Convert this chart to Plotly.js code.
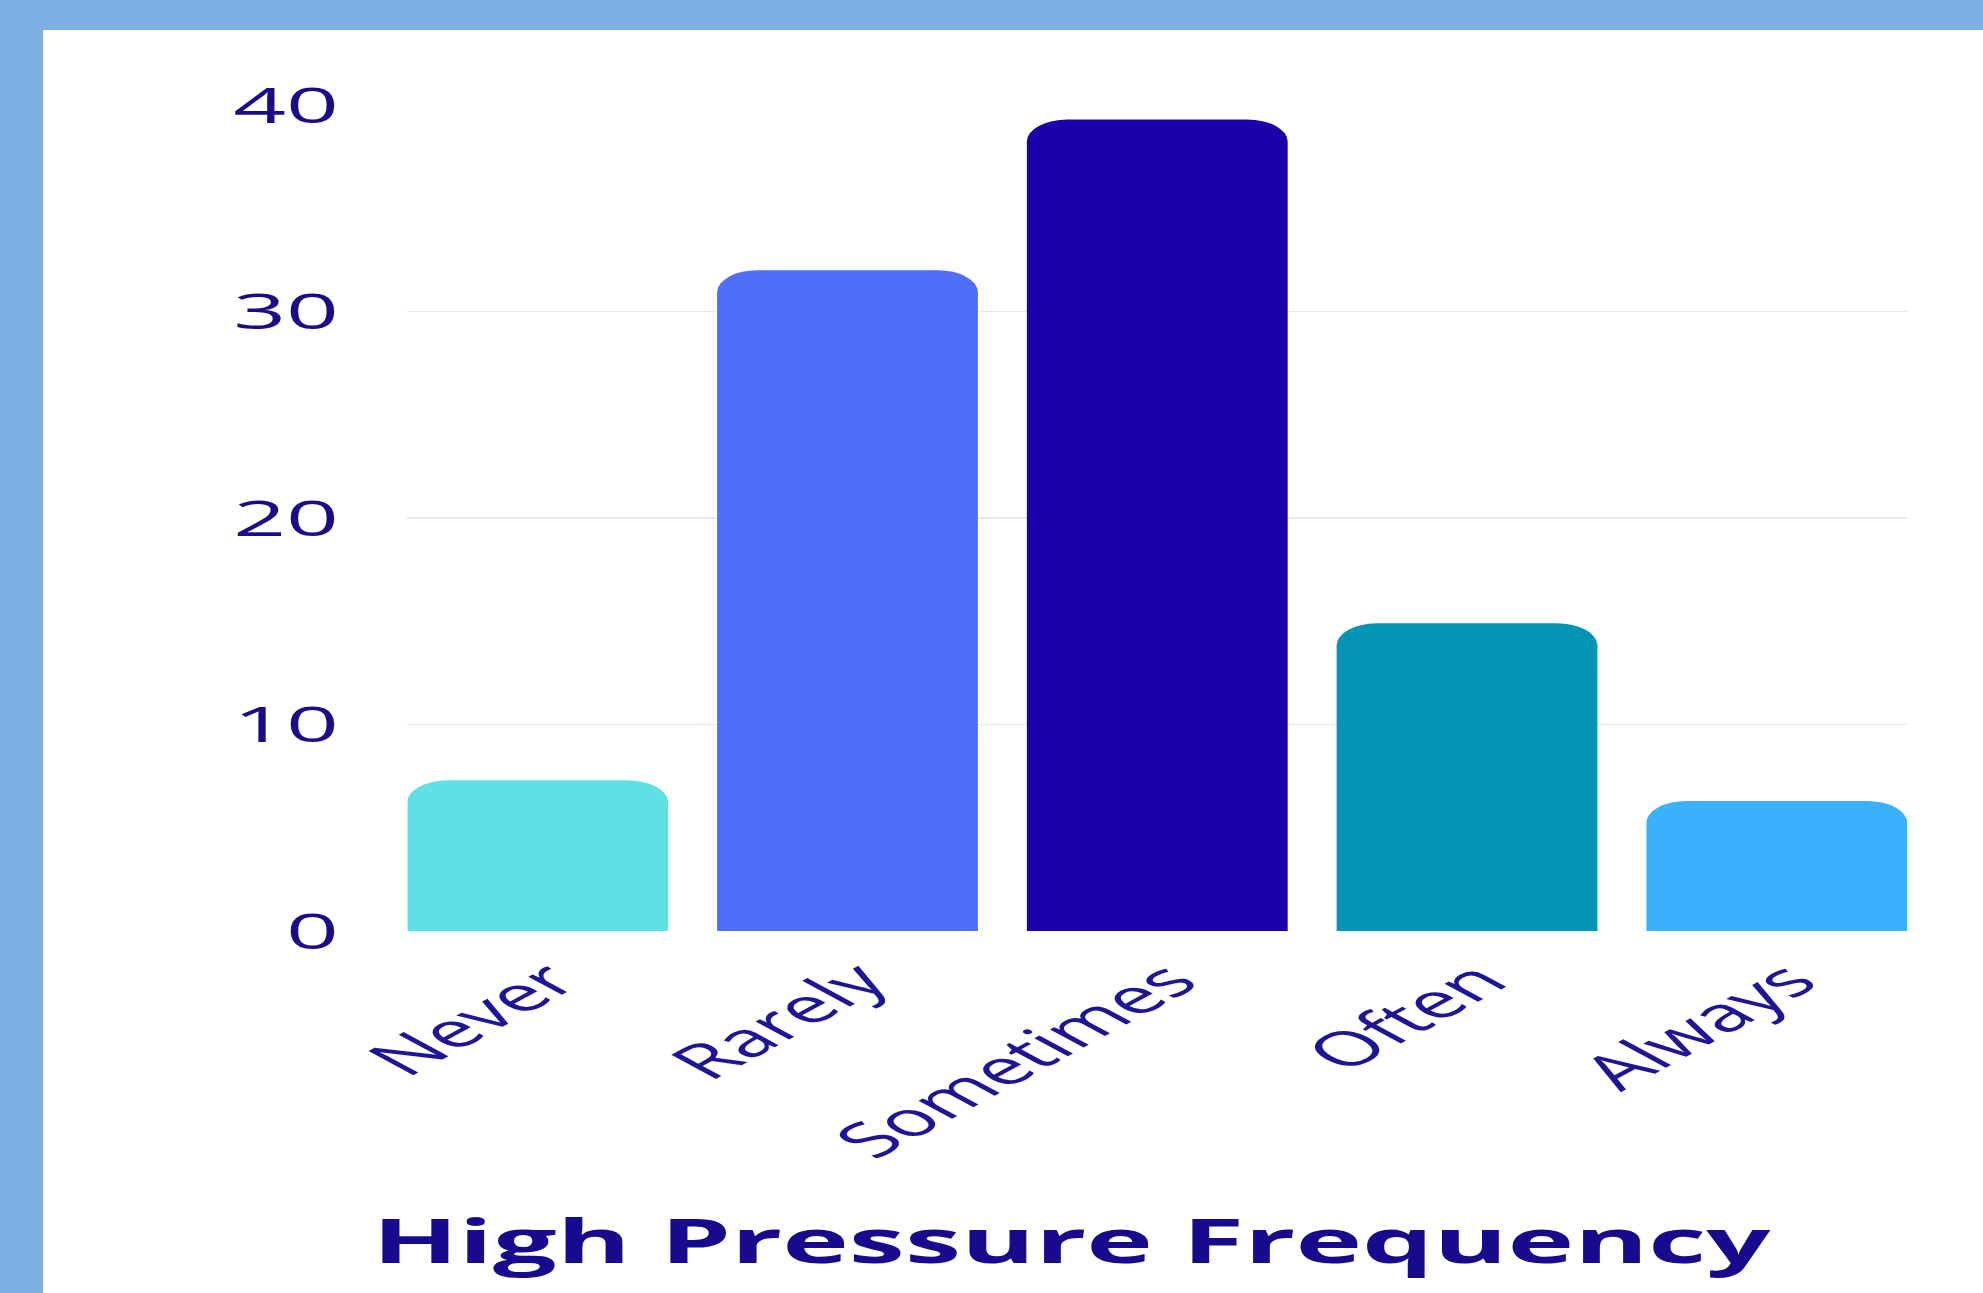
<!DOCTYPE html>
<html><head><meta charset="utf-8">
<script src="https://cdn.plot.ly/plotly-3.0.1.min.js"></script>
<style>
html,body{margin:0;padding:0;background:#7fb0e4;width:1983px;height:1293px;overflow:hidden;}
#frame{position:absolute;left:43px;top:30px;width:1940px;height:1263px;background:#ffffff;overflow:hidden;}
#chart{position:absolute;left:0;top:0;width:1049px;height:1263px;transform:scaleX(1.8494);transform-origin:0 0;}
</style></head><body>
<div id="frame"><div id="chart"></div></div>
<script>
const categories = ['Never', 'Rarely', 'Sometimes', 'Often', 'Always'];
const values = [7.3, 32, 39.3, 14.9, 6.3];
const barColors = ['#5ee0e5', '#4f6efc', '#1900a8', '#0494b6', '#3cb1fb'];
const yTickVals = [0, 10, 20, 30, 40];
const yTickText = ['0', '10', '20', '30', '40'];
const chartTitle = 'High Pressure Frequency';

const trace = {
  type: 'bar',
  x: categories,
  y: values,
  marker: { color: barColors, cornerradius: 22, line: { width: 0 } },
  hoverinfo: 'none'
};

const layout = {
  width: 1049, height: 1263,
  margin: { l: 197, r: 41, t: 75, b: 362, pad: 0 },
  paper_bgcolor: '#ffffff', plot_bgcolor: '#ffffff',
  bargap: 0.158,
  showlegend: false,
  font: { family: 'Open Sans', color: '#1a0c8a' },
  xaxis: {
    range: [-0.421, 4.421],
    tickangle: -45,
    tickfont: { size: 48, color: '#1e1496', family: 'Open Sans' },
    showgrid: false, showline: false, zeroline: false, ticks: '',
    ticklabelstandoff: 11,
    ticklabelshift: 7
  },
  yaxis: {
    range: [0, 40],
    tickvals: yTickVals, ticktext: yTickText,
    tickfont: { size: 50, color: '#1a0c86', family: 'Open Sans' },
    showgrid: true, gridcolor: '#e6e6f4', gridwidth: 1.5,
    zeroline: false, showline: false, ticks: '',
    ticklabelstandoff: 36
  },
  annotations: [{
    text: chartTitle, xref: 'paper', yref: 'paper',
    x: 0.443, y: -0.374, xanchor: 'center', yanchor: 'middle',
    showarrow: false,
    font: { size: 61, family: 'Open Sans', weight: 'bold', color: '#170a8c' }
  }]
};

Plotly.newPlot('chart', [trace], layout, { displayModeBar: false, staticPlot: true });
</script>
</body></html>
